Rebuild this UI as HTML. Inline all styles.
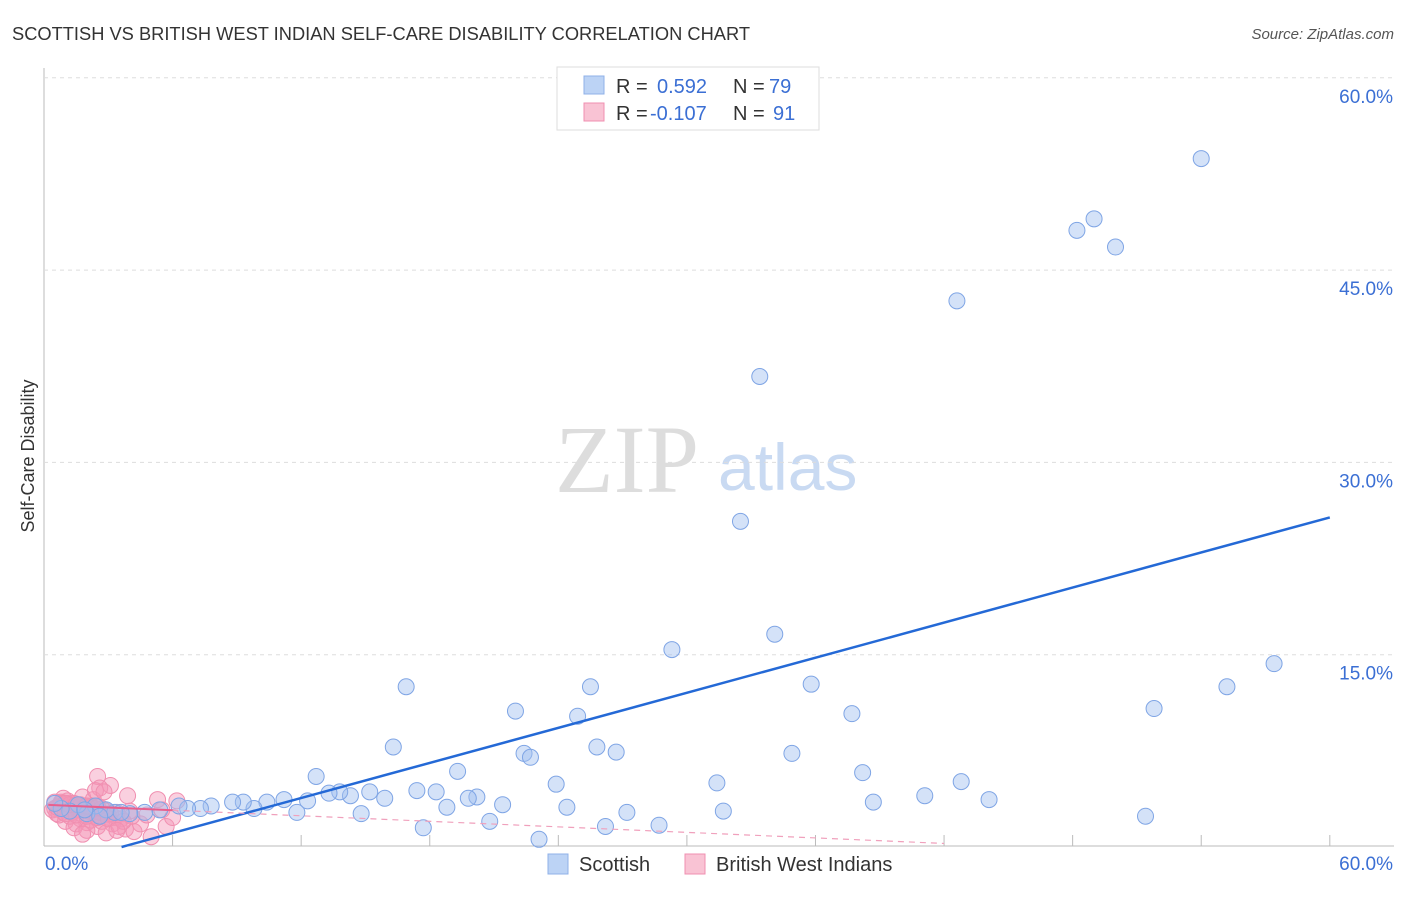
<!DOCTYPE html>
<html><head><meta charset="utf-8"><style>
body{margin:0;background:#fff;font-family:"Liberation Sans",sans-serif;}
</style></head><body>
<svg id="c" width="1406" height="892" xmlns="http://www.w3.org/2000/svg">
<text x="12" y="40" font-size="18" fill="#333" textLength="738" lengthAdjust="spacingAndGlyphs">SCOTTISH VS BRITISH WEST INDIAN SELF-CARE DISABILITY CORRELATION CHART</text>
<text x="1394" y="39" font-size="15" fill="#555" font-style="italic" text-anchor="end">Source: ZipAtlas.com</text>
<text x="34" y="456" font-size="18" fill="#333" transform="rotate(-90 34 456)" text-anchor="middle">Self-Care Disability</text>
<text x="555" y="492" font-size="96" fill="#ddd" font-family="Liberation Serif,serif">ZIP</text>
<text x="718" y="490" font-size="66" fill="#c9daf2">atlas</text>
<g id="grid"></g><g id="marks"></g>
<g>
<rect x="557" y="67" width="262" height="63" fill="#fff" stroke="#ddd"/>
<rect x="584" y="76" width="20" height="18" fill="#bcd3f5" stroke="#8fb0e8"/>
<rect x="584" y="103" width="20" height="18" fill="#f9c3d4" stroke="#f08fb0"/>
<text y="93" font-size="20" fill="#333"><tspan x="616">R =</tspan><tspan x="657" fill="#3b6fd4">0.592</tspan><tspan x="733">N =</tspan><tspan x="769" fill="#3b6fd4">79</tspan></text>
<text y="120" font-size="20" fill="#333"><tspan x="616">R =</tspan><tspan x="650" fill="#3b6fd4">-0.107</tspan><tspan x="733">N =</tspan><tspan x="773" fill="#3b6fd4">91</tspan></text>
</g>
<g>
<rect x="548" y="854" width="20" height="20" fill="#bcd3f5" stroke="#8fb0e8"/>
<text x="579" y="871" font-size="20" fill="#333">Scottish</text>
<rect x="685" y="854" width="20" height="20" fill="#f9c3d4" stroke="#f08fb0"/>
<text x="716" y="871" font-size="20" fill="#333">British West Indians</text>
</g>
</svg>
<script>
const yTicks=[15,30,45,60];
const yTickLabels=["15.0%","30.0%","45.0%","60.0%"];
const scotX=[54.0,48.2,49.0,50.0,42.6,33.4,32.5,34.1,29.3,35.8,57.4,55.2,51.8,37.7,16.9,25.5,22.0,24.9,16.3,22.4,22.7,25.8,26.7,34.9,38.2,19.3,12.7,31.4,42.8,23.9,41.1,44.1,38.7,31.7,51.4,17.4,18.3,20.2,19.8,21.4,18.8,24.4,27.2,20.8,17.7,26.2,28.7,23.1,14.8,15.9,15.2,14.3,13.8,13.3,12.3,11.8,11.2,10.4,9.8,9.3,8.8,7.8,7.3,6.7,6.3,5.4,4.7,4.0,3.3,2.9,2.4,2.0,1.6,1.2,0.8,0.5,3.6,2.6,1.9];
const scotY=[53.7,48.1,49.0,46.8,42.6,36.7,25.4,16.6,15.4,12.7,14.3,12.5,10.8,10.4,12.5,12.5,10.6,10.2,7.8,7.3,7.0,7.8,7.4,7.3,5.8,5.9,5.5,5.0,5.1,4.9,4.0,3.7,3.5,2.8,2.4,4.4,4.3,3.9,3.8,3.3,3.1,3.1,2.7,2.0,1.5,1.6,1.7,0.6,2.6,3.8,4.3,4.0,4.3,4.2,3.6,2.7,3.7,3.5,3.0,3.5,3.5,3.2,3.0,3.0,3.2,2.9,2.7,2.6,2.7,2.9,3.2,2.6,3.3,2.8,3.0,3.4,2.7,2.4,2.9];
const bwiX=[2.5,3.1,6.2,5.3,5.5,4.0,0.5,0.7,1.0,1.2,1.5,1.8,2.0,2.2,0.6,0.9,1.3,1.6,1.9,2.3,2.6,0.8,1.1,1.4,1.7,2.1,2.4,2.8,3.0,3.3,3.6,1.0,1.5,2.0,2.5,3.8,4.2,5.0,5.7,6.0,0.4,0.7,1.2,1.7,2.2,2.7,3.2,1.4,2.0,2.9,3.5,4.5,0.9,1.8,2.3,3.9,2.6,2.4,4.8,1.3,0.6,1.1,1.6,2.1,2.6,3.1,0.8,1.4,1.9,2.4,2.9,3.4,1.0,1.5,2.0,2.5,3.0,1.2,1.7,2.2,2.7,0.5,1.0,1.5,2.0,2.5,4.1,3.7,3.4,1.8,2.8];
const bwiY=[5.5,4.8,3.6,3.7,2.9,2.8,3.0,3.2,3.3,3.4,3.1,3.0,2.9,3.2,2.6,2.7,2.8,3.0,3.1,2.7,2.5,3.5,3.6,3.4,3.3,3.0,2.9,2.6,2.5,2.3,2.2,2.0,1.8,1.9,1.6,1.4,1.2,0.8,1.6,2.3,2.9,2.5,2.4,2.2,2.1,2.0,1.8,1.5,1.3,1.1,1.6,1.8,3.8,3.9,3.7,4.0,4.6,4.4,2.5,2.7,3.1,3.0,2.9,2.8,2.7,2.6,3.4,3.2,3.1,3.0,2.8,2.7,2.6,2.5,2.4,2.3,2.2,3.3,3.2,3.1,3.0,3.5,3.4,3.3,3.2,3.1,2.4,2.0,1.3,1.0,4.3];
const scotFit=[0.456,-1.65], bwiFit=[-0.072,3.3];
const NS='http://www.w3.org/2000/svg';
const X=v=>44+v*21.43, Y=v=>847-v*12.82;
function mk(t,a,p){const e=document.createElementNS(NS,t);for(const k in a)e.setAttribute(k,a[k]);p.appendChild(e);return e;}
const g=document.getElementById('grid'), m=document.getElementById('marks');
let ax=mk('line',{x1:44,y1:68,x2:44,y2:846,stroke:'#bbb'},g);


let bx=mk('line',{x1:44,y1:846,x2:1394,y2:846,stroke:'#bbb'},g);


for(let i=1;i<=10;i++){let t=mk('line',{x1:X(i*6),x2:X(i*6),y1:835,y2:846,stroke:'#bbb'},g);

}
yTicks.forEach((v,i)=>{let l=mk('line',{x1:44,x2:1394,y1:Y(v),y2:Y(v),stroke:'#ddd','stroke-dasharray':'4,4'},g);


let t=mk('text',{x:1393,y:Y(v)+25,'font-size':19,fill:'#3b6fd4','text-anchor':'end'},g);t.textContent=yTickLabels[i];

});
let t0=mk('text',{x:45,y:870,'font-size':19,fill:'#3b6fd4'},g);t0.textContent='0.0%';


let t1=mk('text',{x:1393,y:870,'font-size':19,fill:'#3b6fd4','text-anchor':'end'},g);t1.textContent='60.0%';


bwiX.forEach((x,i)=>{let c=mk('circle',{cx:X(x),cy:Y(bwiY[i]),r:8,fill:'rgba(245,150,185,0.45)',stroke:'#f08fb0','stroke-width':1},m);

});
scotX.forEach((x,i)=>{let c=mk('circle',{cx:X(x),cy:Y(scotY[i]),r:8,fill:'rgba(160,190,240,0.45)',stroke:'#7fa5e5','stroke-width':1},m);

});
let x0=-scotFit[1]/scotFit[0];
let sl=mk('line',{x1:X(x0),y1:Y(0),x2:X(60),y2:Y(scotFit[0]*60+scotFit[1]),stroke:'#2469d6','stroke-width':2.5},m);


let bl=mk('line',{x1:X(0.2),y1:Y(bwiFit[1]+bwiFit[0]*0.2),x2:X(6),y2:Y(bwiFit[1]+bwiFit[0]*6),stroke:'#e8608f','stroke-width':2},m);


let bd=mk('line',{x1:X(6),y1:Y(bwiFit[1]+bwiFit[0]*6),x2:X(42),y2:Y(bwiFit[1]+bwiFit[0]*42),stroke:'#f0a0bc','stroke-width':1.2,'stroke-dasharray':'6,5'},m);


</script>
</body></html>
